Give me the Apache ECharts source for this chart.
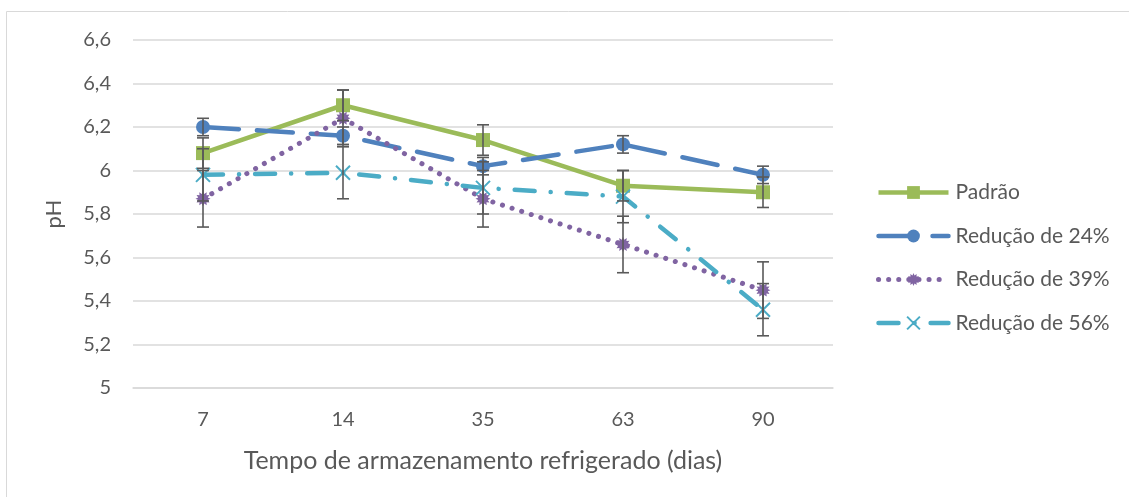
<!DOCTYPE html>
<html><head><meta charset="utf-8">
<script src="https://cdn.jsdelivr.net/npm/echarts@6/dist/echarts.min.js"></script>
<style>html,body{margin:0;padding:0;background:#fff}#c{width:1129px;height:497px}</style>
</head><body><div id="c"></div>
<script>
const categories = ['7','14','35','63','90'];
const padrao = [6.08, 6.30, 6.14, 5.93, 5.90];
const red24 = [6.20, 6.16, 6.02, 6.12, 5.98];
const red39 = [5.87, 6.24, 5.87, 5.66, 5.45];
const red56 = [5.98, 5.99, 5.92, 5.88, 5.36];
const errPadrao = [0.07, 0.07, 0.07, 0.07, 0.07];
const err24 = [0.04, 0.04, 0.04, 0.04, 0.04];
const err39 = [0.13, 0.13, 0.13, 0.13, 0.13];
const err56 = [0.12, 0.12, 0.12, 0.12, 0.12];
const names = ['Padrão','Redução de 24%','Redução de 39%','Redução de 56%'];
const colors = ['#9BBB59','#4F81BD','#8064A2','#4BACC6'];
const FONT = 'Lato, "Open Sans", sans-serif';

function errData(vals, errs){ return vals.map((v,i)=>[i, v-errs[i], v+errs[i]]); }
function errSeries(vals, errs, z){
  return {
    type:'custom', z:z, silent:true, legendHoverLink:false,
    data: errData(vals, errs),
    encode:{x:0, y:[1,2]},
    renderItem:function(params, api){
      const lo = api.coord([api.value(0), api.value(1)]);
      const hi = api.coord([api.value(0), api.value(2)]);
      const w = 6;
      const st = {stroke:'#595959', lineWidth:1.6, fill:null};
      return {type:'group', children:[
        {type:'line', shape:{x1:lo[0],y1:lo[1],x2:hi[0],y2:hi[1]}, style:st},
        {type:'line', shape:{x1:lo[0]-w,y1:lo[1],x2:lo[0]+w,y2:lo[1]}, style:st},
        {type:'line', shape:{x1:hi[0]-w,y1:hi[1],x2:hi[0]+w,y2:hi[1]}, style:st}
      ]};
    }
  };
}
const starPath = 'path://M50,0 L58,18 L75,7 L73,27 L93,25 L82,42 L100,50 L82,58 L93,75 L73,73 L75,93 L58,82 L50,100 L42,82 L25,93 L27,73 L7,75 L18,58 L0,50 L18,42 L7,25 L27,27 L25,7 L42,18 Z';
const xPath = 'path://M0,0 L100,100 M100,0 L0,100';

const lineStyles = [
  {color:colors[0], width:4.5},
  {color:colors[1], width:4.5, type:[36,18], cap:'round'},
  {color:colors[2], width:5, type:[0.1,10], cap:'round'},
  {color:colors[3], width:4.5, type:[20,16,0.1,16], cap:'round'}
];

const chart = echarts.init(document.getElementById('c'), null, {renderer:'canvas'});
chart.setOption({
  animation:false,
  textStyle:{fontFamily:FONT},
  graphic:[{type:'rect', shape:{x:6.5,y:11.5,width:1300,height:700}, style:{fill:null, stroke:'#d9d9d9', lineWidth:1}, silent:true, z:-10}],
  grid:{left:133, right:296, top:40, bottom:109},
  legend:{
    orient:'vertical', left:876, top:182, padding:0, itemGap:22.5, itemWidth:70, itemHeight:16,
    data:names.map((n,i)=>({name:n, lineStyle:Object.assign({}, lineStyles[i])})),
    textStyle:{fontFamily:FONT, fontSize:21, color:'#595959', padding:[0,0,0,2]}
  },
  xAxis:{
    type:'category', data:categories, boundaryGap:true,
    axisLine:{show:true, lineStyle:{color:'#d9d9d9', width:1.5}},
    axisTick:{show:false},
    axisLabel:{fontFamily:FONT, fontSize:20, color:'#595959', margin:22},
    name:'Tempo de armazenamento refrigerado (dias)', nameLocation:'middle', nameGap:60,
    nameTextStyle:{fontFamily:FONT, fontSize:25, color:'#595959'}
  },
  yAxis:{
    type:'value', min:5, max:6.6, interval:0.2,
    axisLine:{show:false}, axisTick:{show:false},
    splitLine:{lineStyle:{color:'#d9d9d9', width:1.5}},
    axisLabel:{fontFamily:FONT, fontSize:20, color:'#595959', margin:22,
      formatter:function(v){ return (Math.round(v*10)/10).toString().replace('.',','); }},
    name:'pH', nameLocation:'middle', nameGap:68, nameRotate:90,
    nameTextStyle:{fontFamily:FONT, fontSize:22, color:'#595959'}
  },
  series:[
    errSeries(padrao, errPadrao, 5),
    errSeries(red24, err24, 5),
    errSeries(red39, err39, 5),
    errSeries(red56, err56, 5),
    {name:names[0], type:'line', data:padrao, z:3, symbol:'rect', symbolSize:14,
      itemStyle:{color:colors[0]}, lineStyle:lineStyles[0]},
    {name:names[1], type:'line', data:red24, z:4, symbol:'circle', symbolSize:14,
      itemStyle:{color:colors[1]}, lineStyle:lineStyles[1]},
    {name:names[2], type:'line', data:red39, z:4, symbol:starPath, symbolSize:15,
      itemStyle:{color:colors[2]}, lineStyle:lineStyles[2]},
    {name:names[3], type:'line', data:red56, z:4, symbol:xPath, symbolSize:14,
      itemStyle:{color:'none', borderColor:colors[3], borderWidth:2},
      lineStyle:lineStyles[3]}
  ]
});
</script></body></html>
